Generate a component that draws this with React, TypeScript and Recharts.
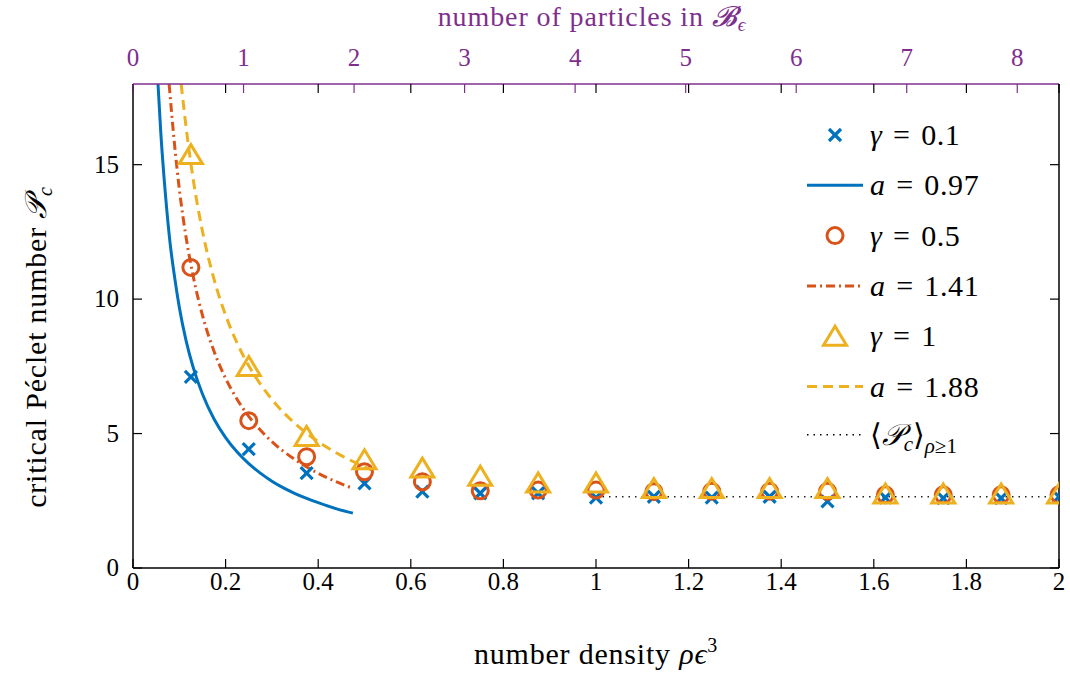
import React from 'react';
import {
  ComposedChart, Scatter, Line, XAxis, YAxis, Legend,
} from 'recharts';

const rho = [0.125, 0.25, 0.375, 0.5, 0.625, 0.75, 0.875, 1, 1.125, 1.25, 1.375, 1.5, 1.625, 1.75, 1.875, 2];
const pcGamma01 = [7.11, 4.42, 3.53, 3.15, 2.84, 2.78, 2.78, 2.62, 2.65, 2.62, 2.65, 2.48, 2.62, 2.6, 2.6, 2.65];
const pcGamma05 = [11.18, 5.48, 4.14, 3.58, 3.21, 2.87, 2.9, 2.9, 2.84, 2.85, 2.85, 2.85, 2.72, 2.72, 2.72, 2.72];
const pcGamma1 = [15.3, 7.42, 4.82, 3.95, 3.64, 3.34, 3.09, 3.09, 2.88, 2.88, 2.88, 2.88, 2.68, 2.68, 2.68, 2.68];

// fitted curves
const fitRho097 = [0.054, 0.06, 0.07, 0.08, 0.09, 0.1, 0.115, 0.13, 0.15, 0.175, 0.2, 0.225, 0.25, 0.275, 0.3, 0.325, 0.35, 0.375, 0.4, 0.44, 0.475];
const fitPc097 = [18, 16.2, 13.9, 12.1, 10.8, 9.7, 8.43, 7.46, 6.47, 5.54, 4.85, 4.31, 3.88, 3.53, 3.23, 2.98, 2.77, 2.59, 2.43, 2.2, 2.04];
const fitRho141 = [0.078, 0.09, 0.1, 0.115, 0.13, 0.15, 0.175, 0.2, 0.225, 0.25, 0.275, 0.3, 0.35, 0.4, 0.44, 0.472];
const fitPc141 = [18, 15.7, 14.1, 12.26, 10.85, 9.4, 8.06, 7.05, 6.27, 5.64, 5.13, 4.7, 4.03, 3.52, 3.2, 2.98];
const fitRho188 = [0.104, 0.115, 0.13, 0.15, 0.175, 0.2, 0.225, 0.25, 0.275, 0.3, 0.35, 0.4, 0.45, 0.49, 0.525];
const fitPc188 = [18, 16.35, 14.46, 12.53, 10.74, 9.4, 8.36, 7.52, 6.84, 6.27, 5.37, 4.7, 4.18, 3.84, 3.58];

const meanRho = [1, 2];
const meanPc = [2.65, 2.65];

const xTicks = [0, 0.2, 0.4, 0.6, 0.8, 1, 1.2, 1.4, 1.6, 1.8, 2];
const yTicks = [0, 5, 10, 15];
const topTicks = [0, 1, 2, 3, 4, 5, 6, 7, 8];
const PARTICLES_PER_RHO = 4.18879; // 4pi/3, volume of the eps-ball

const legendLabels = [
  ['γ', '\u2004=\u20040.1'],
  ['a', '\u2004=\u20040.97'],
  ['γ', '\u2004=\u20040.5'],
  ['a', '\u2004=\u20041.41'],
  ['γ', '\u2004=\u20041'],
  ['a', '\u2004=\u20041.88'],
];

const zip = (xs: number[], ys: number[]) => xs.map((x, i) => ({ x, y: ys[i] }));

const BLUE = '#0072BD';
const RED = '#D95319';
const YELLOW = '#EDB120';
const PURPLE = '#7E2F8E';
const FONT = '"Liberation Serif", "DejaVu Serif", serif';

const W = 1070;
const H = 677;
// plot box: left 133, right 1059, top 84, bottom 568
const PLOT_LEFT = 133, PLOT_RIGHT = 1059, PLOT_TOP = 84, PLOT_BOTTOM = 568;
const AX_B = 40, AX_T = 40, AX_L = 40, AX_R = 5;
const M = {
  top: PLOT_TOP - AX_T,
  right: W - PLOT_RIGHT - AX_R,
  bottom: H - PLOT_BOTTOM - AX_B,
  left: PLOT_LEFT - AX_L,
};
const TICK = 9;

const Cross = ({ cx, cy }: any) => (
  <g stroke={BLUE} strokeWidth={3.2}>
    <line x1={cx - 6} y1={cy - 6} x2={cx + 6} y2={cy + 6} />
    <line x1={cx - 6} y1={cy + 6} x2={cx + 6} y2={cy - 6} />
  </g>
);
const Ring = ({ cx, cy }: any) => (
  <circle cx={cx} cy={cy} r={8} fill="none" stroke={RED} strokeWidth={3} />
);
const Tri = ({ cx, cy }: any) => (
  <polygon
    points={`${cx},${cy - 12} ${cx - 11.5},${cy + 7} ${cx + 11.5},${cy + 7}`}
    fill="none" stroke={YELLOW} strokeWidth={3} strokeLinejoin="miter"
  />
);

const BottomTick = ({ x, payload }: any) => (
  <g>
    <line x1={x} y1={PLOT_BOTTOM} x2={x} y2={PLOT_BOTTOM - TICK} stroke="#000" strokeWidth={1.2} />
    <line x1={x} y1={PLOT_TOP} x2={x} y2={PLOT_TOP + TICK} stroke="#000" strokeWidth={1.2} />
    <text x={x} y={PLOT_BOTTOM + 22} textAnchor="middle" fontFamily={FONT} fontSize={25} fill="#000">
      {String(payload.value)}
    </text>
  </g>
);
const TopTick = ({ x, payload }: any) => (
  <g>
    <line x1={x} y1={PLOT_TOP} x2={x} y2={PLOT_TOP + TICK} stroke={PURPLE} strokeWidth={1.2} />
    <text x={x} y={PLOT_TOP - 18} textAnchor="middle" fontFamily={FONT} fontSize={25} fill={PURPLE}>
      {String(Math.round(payload.value * PARTICLES_PER_RHO))}
    </text>
  </g>
);
const LeftTick = ({ y, payload }: any) => (
  <g>
    <line x1={PLOT_LEFT} y1={y} x2={PLOT_LEFT + TICK} y2={y} stroke="#000" strokeWidth={1.2} />
    <text x={PLOT_LEFT - 14} y={y + 8} textAnchor="end" fontFamily={FONT} fontSize={25} fill="#000">
      {String(payload.value)}
    </text>
  </g>
);
const RightTick = ({ y }: any) => (
  <line x1={PLOT_RIGHT} y1={y} x2={PLOT_RIGHT - TICK} y2={y} stroke="#000" strokeWidth={1.2} />
);

const LegendBox = () => {
  const row = (i: number) => 25 + i * 50.3;
  return (
    <svg width={270} height={350} style={{ overflow: 'visible' }}>
      <Cross cx={35} cy={row(0)} />
      <line x1={7} x2={63} y1={row(1)} y2={row(1)} stroke={BLUE} strokeWidth={3} />
      <Ring cx={35} cy={row(2)} />
      <line x1={7} x2={63} y1={row(3)} y2={row(3)} stroke={RED} strokeWidth={3} strokeDasharray="9 4 2 4" />
      <Tri cx={35} cy={row(4) + 2} />
      <line x1={7} x2={63} y1={row(5)} y2={row(5)} stroke={YELLOW} strokeWidth={3} strokeDasharray="10 6" />
      <line x1={7} x2={63} y1={row(6) - 2} y2={row(6) - 2} stroke="#000" strokeWidth={1.5} strokeDasharray="1.5 5" />
      {legendLabels.map((l, i) => (
        <text key={i} x={70} y={row(i) + 10} fontFamily={FONT} fontSize={30} fill="#000" letterSpacing={0.6}>
          <tspan fontStyle="italic">{l[0]}</tspan>
          <tspan>{l[1]}</tspan>
        </text>
      ))}
      <text x={70} y={row(6) + 8} fontFamily={FONT} fontSize={30} fill="#000">
        <tspan>⟨</tspan>
        <tspan fontStyle="italic">𝒫</tspan>
        <tspan fontSize={21} dy={6} fontStyle="italic">c</tspan>
        <tspan dy={-6}>⟩</tspan>
        <tspan fontSize={21} dy={8} fontStyle="italic">ρ</tspan>
        <tspan fontSize={21}>≥1</tspan>
      </text>
    </svg>
  );
};

export default function App() {
  return (
    <div style={{ position: 'absolute', left: 0, top: 0, background: '#fff' }}>
      <ComposedChart width={W} height={H} margin={M}>
        <XAxis
          dataKey="x" type="number" domain={[0, 2]} ticks={xTicks} allowDataOverflow
          tickSize={0} tickMargin={0} tickLine={false} tick={<BottomTick />} height={AX_B}
          axisLine={{ stroke: '#000', strokeWidth: 1.5 }} interval={0}
        />
        <XAxis
          xAxisId="top" orientation="top" dataKey="x" type="number" domain={[0, 2]}
          ticks={topTicks.map((n) => n / PARTICLES_PER_RHO)}
          allowDataOverflow tickSize={0} tickMargin={0} tickLine={false} tick={<TopTick />} height={AX_T}
          axisLine={{ stroke: PURPLE, strokeWidth: 1.5 }} interval={0}
        />
        <YAxis
          type="number" domain={[0, 18]} ticks={yTicks} allowDataOverflow
          tickSize={0} tickMargin={0} tickLine={false} tick={<LeftTick />} width={AX_L}
          axisLine={{ stroke: '#000', strokeWidth: 1.5 }} interval={0}
        />
        <YAxis
          yAxisId="r" orientation="right" type="number" domain={[0, 18]} ticks={yTicks} allowDataOverflow
          tickSize={0} tickMargin={0} tickLine={false} tick={<RightTick />} width={AX_R}
          axisLine={{ stroke: '#000', strokeWidth: 1.5 }} interval={0}
        />
        <Line data={zip(meanRho, meanPc)} dataKey="y" xAxisId="top" stroke="#222" strokeWidth={1.6}
          strokeDasharray="1.5 5" dot={false} isAnimationActive={false} />
        <Line data={zip(fitRho097, fitPc097)} dataKey="y" type="monotone" stroke={BLUE} strokeWidth={3}
          dot={false} isAnimationActive={false} />
        <Line data={zip(fitRho141, fitPc141)} dataKey="y" type="monotone" stroke={RED} strokeWidth={3}
          strokeDasharray="9 4 2 4" dot={false} isAnimationActive={false} />
        <Line data={zip(fitRho188, fitPc188)} dataKey="y" type="monotone" stroke={YELLOW} strokeWidth={3}
          strokeDasharray="10 6" dot={false} isAnimationActive={false} />
        <Scatter data={zip(rho, pcGamma01)} dataKey="y" shape={<Cross />} isAnimationActive={false} />
        <Scatter data={zip(rho, pcGamma05)} dataKey="y" shape={<Ring />} isAnimationActive={false} />
        <Scatter data={zip(rho, pcGamma1)} dataKey="y" shape={<Tri />} isAnimationActive={false} />
        <Legend
          layout="vertical" align="center" verticalAlign="middle"
          content={<LegendBox />}
          wrapperStyle={{ left: 800, top: 110, width: 270, height: 350 }}
        />
        <text x={596} y={664} textAnchor="middle" fontFamily={FONT} fontSize={30} letterSpacing={0.8} fill="#000">
          number density <tspan fontStyle="italic">ρϵ</tspan><tspan fontSize={20} dy={-12}>3</tspan>
        </text>
        <text x={592} y={26} textAnchor="middle" fontFamily={FONT} fontSize={28} letterSpacing={0.9} fill={PURPLE}>
          number of particles in <tspan fontStyle="italic">𝓑</tspan><tspan fontSize={19} dy={5} fontStyle="italic">ϵ</tspan>
        </text>
        <text x={0} y={0} transform="translate(46 347) rotate(-90)" textAnchor="middle"
          fontFamily={FONT} fontSize={30} letterSpacing={0.8} fill="#000">
          critical Péclet number <tspan fontStyle="italic">𝒫</tspan><tspan fontSize={20} dy={6} fontStyle="italic">c</tspan>
        </text>
      </ComposedChart>
    </div>
  );
}
